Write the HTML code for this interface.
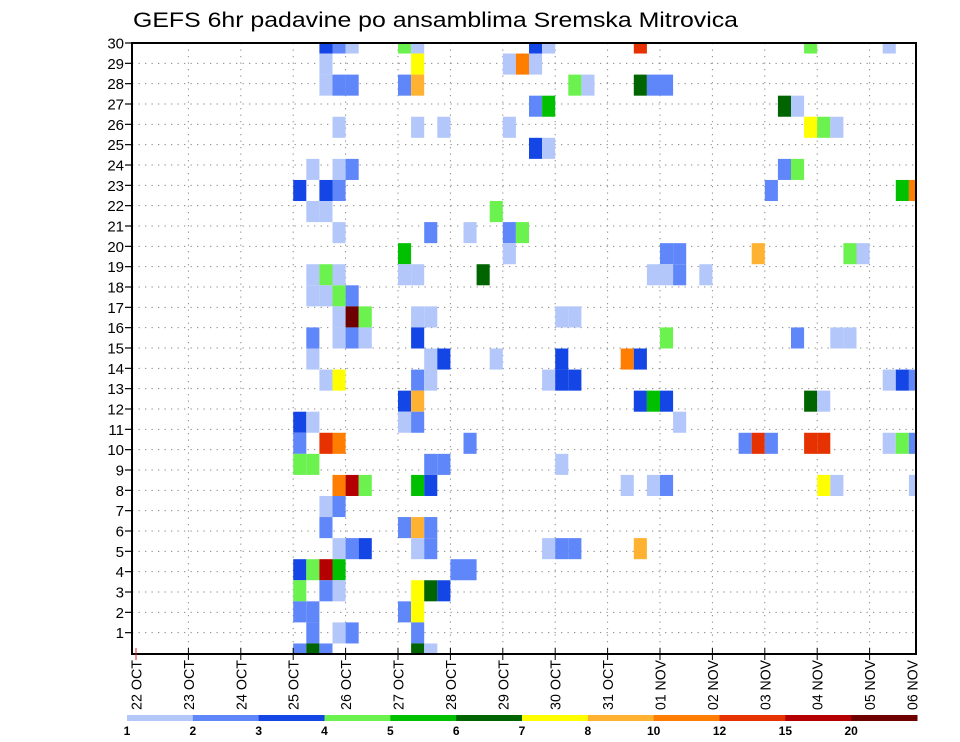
<!DOCTYPE html>
<html>
<head>
<meta charset="utf-8">
<style>
html,body{margin:0;padding:0;background:#fff;}
svg{display:block;font-family:"Liberation Sans",sans-serif;}
</style>
</head>
<body>
<svg id="chart" width="960" height="742" viewBox="0 0 960 742" xmlns="http://www.w3.org/2000/svg">
  <text x="133" y="27" font-size="21" textLength="605" lengthAdjust="spacingAndGlyphs" fill="#000">GEFS 6hr padavine po ansamblima Sremska Mitrovica</text>
  <g id="grid"></g>
  <g id="cells"></g>
  <rect x="132" y="43" width="784" height="611" fill="none" stroke="#000" stroke-width="2"/>
  <g id="axes"></g>
  <g id="colorbar"></g>
</svg>
<script>
// ---- data ----
const dayLabels = ["22 OCT","23 OCT","24 OCT","25 OCT","26 OCT","27 OCT","28 OCT","29 OCT","30 OCT","31 OCT","01 NOV","02 NOV","03 NOV","04 NOV","05 NOV","06 NOV"];
const memberTicks = [1,2,3,4,5,6,7,8,9,10,11,12,13,14,15,16,17,18,19,20,21,22,23,24,25,26,27,28,29,30];
const levelLabels = ["1","2","3","4","5","6","7","8","10","12","15","20"];
const levelColors = ["#b4c7fa","#5f87fa","#1446e6","#6cf24f","#00c000","#006400","#ffff00","#ffb232","#ff7d00","#e63200","#b40000","#6e0000"];
// cells: member band index (0 = bottom), 6-hour step index from 22 OCT 00z, colour class
const cellMember = [
29,29,29,29,29,29,29,29,29,29,
28,28,28,28,28,
27,27,27,27,27,27,27,27,27,27,
26,26,26,26,
25,25,25,25,25,25,25,
24,24,
23,23,23,23,23,
22,22,22,22,22,22,
21,21,21,
20,20,20,20,20,
19,19,19,19,19,19,19,
18,18,18,18,18,18,18,18,18,18,
17,17,17,17,
16,16,16,16,16,16,16,
15,15,15,15,15,15,15,15,15,
14,14,14,14,14,14,14,
13,13,13,13,13,13,13,13,13,13,
12,12,12,12,12,12,12,
11,11,11,11,11,
10,10,10,10,10,10,10,10,10,10,10,10,
9,9,9,9,9,
8,8,8,8,8,8,8,8,8,8,8,
7,7,
6,6,6,6,
5,5,5,5,5,5,5,5,5,
4,4,4,4,4,4,
3,3,3,3,3,3,
2,2,2,2,
1,1,1,1,
0,0,0,0,0];
const cellStep = [
14,15,16,20,21,30,31,38,51,57,
14,21,28,29,30,
14,15,16,20,21,33,34,38,39,40,
30,31,49,50,
15,21,23,28,51,52,53,
30,31,
13,15,16,49,50,
12,14,15,48,58,59,
13,14,27,
15,22,25,28,29,
20,28,40,41,47,54,55,
13,14,15,20,21,26,39,40,41,43,
13,14,15,16,
15,16,17,21,22,32,33,
13,15,16,17,21,40,50,53,54,
13,22,23,27,32,37,38,
14,15,21,22,31,32,33,57,58,59,
20,21,38,39,40,51,52,
12,13,20,21,41,
12,14,15,25,46,47,48,51,52,57,58,59,
12,13,22,23,32,
15,16,17,21,22,37,39,40,52,53,59,
14,15,
14,20,21,22,
15,16,17,21,22,31,32,33,38,
12,13,14,15,24,25,
12,14,15,21,22,23,
12,13,20,21,
13,15,16,21,
12,13,14,21,22];
const cellLevel = [
2,1,0,3,0,2,0,9,3,0,
0,6,0,8,0,
0,1,1,1,7,3,0,5,1,1,
1,4,5,0,
0,0,0,0,6,3,0,
2,0,
0,0,1,1,3,
2,2,1,1,4,8,
0,0,3,
0,1,0,1,3,
4,0,1,1,7,3,0,
0,3,0,0,0,5,0,0,1,0,
0,0,3,1,
0,11,3,0,0,0,0,
1,0,1,0,2,3,1,0,0,
0,0,2,0,2,8,2,
0,6,1,0,0,2,2,0,2,1,
2,7,2,4,2,5,0,
2,0,0,1,0,
1,9,8,1,1,9,1,9,9,0,3,1,
3,3,1,1,0,
8,10,3,4,2,0,0,1,6,0,0,
0,1,
1,1,7,1,
0,1,2,0,1,0,1,1,7,
2,3,10,4,1,1,
3,1,0,6,5,2,
1,1,1,6,
1,0,1,1,
1,5,1,5,0];

// ---- scales ----
const NS = "http://www.w3.org/2000/svg";
const plotL = 132, plotR = 916, plotT = 43, plotB = 654;
const x0 = 136, stepW = 13.1;
function xStep(k){ return x0 + k*stepW; }
function xDay(d){ return x0 + d*4*stepW; }
const bandH = (plotB - plotT)/29;
function yBand(m){ return plotB - m*bandH; }           // band centre
function yTick(r){ return plotB - 1 - r*(plotB - 1 - plotT)/30; }

function mk(tag, attrs, parent){
  const e = document.createElementNS(NS, tag);
  for (const a in attrs) e.setAttribute(a, attrs[a]);
  parent.appendChild(e);
  return e;
}

// grid
const grid = document.getElementById('grid');
for (let r = 1; r < 30; r++){
  const y = yTick(r);
  const ln = mk('line', {x1:plotL, x2:plotR, y1:y, y2:y, stroke:'#888', 'stroke-width':1, 'stroke-dasharray':'1.3,5.2'}, grid);
  
  
}
for (let d = 1; d < 15; d++){
  const x = xDay(d);
  const ln = mk('line', {x1:x, x2:x, y1:plotT, y2:plotB, stroke:'#888', 'stroke-width':1, 'stroke-dasharray':'1.3,5.2'}, grid);
  
  
}

// cells
const cells = document.getElementById('cells');
for (let i = 0; i < cellMember.length; i++){
  const xl = Math.max(plotL, xStep(cellStep[i]));
  const xr = Math.min(plotR, xStep(cellStep[i] + 1));
  const yc = yBand(cellMember[i]);
  const yt = Math.max(plotT, yc - bandH/2);
  const yb = Math.min(plotB, yc + bandH/2);
  if (xr <= xl || yb <= yt) continue;
  const c = mk('rect', {x:xl, y:yt, width:xr - xl, height:yb - yt, fill:levelColors[cellLevel[i]]}, cells);
  
  
}

// axes
const axes = document.getElementById('axes');
for (let i = 0; i < memberTicks.length; i++){
  const r = memberTicks[i];
  const y = yTick(r);
  const t = mk('line', {x1:125, x2:plotL, y1:y, y2:y, stroke:'#000', 'stroke-width':1.2}, axes);
  
  
  const lb = mk('text', {x:124, y:y + 5.5, 'font-size':15, 'text-anchor':'end', fill:'#000'}, axes);
  lb.textContent = String(r);
  
  
}
for (let d = 0; d < dayLabels.length; d++){
  let x = xDay(d);
  if (x > plotR) x = 912;
  if (d > 0 && d < 15){
    const t = mk('line', {x1:x, x2:x, y1:plotB - 6, y2:plotB + 6, stroke:'#000', 'stroke-width':1}, axes);
    
    
  }
  const lb = mk('text', {x:0, y:0, 'font-size':15, 'text-anchor':'end', fill:'#000',
    textLength:50, lengthAdjust:'spacingAndGlyphs',
    transform:'translate(' + (x + 5.5) + ',660) rotate(-90)'}, axes);
  lb.textContent = dayLabels[d];
  
  
}
const t0 = mk('line', {x1:xDay(0), x2:xDay(0), y1:plotB - 6, y2:plotB + 6, stroke:'#d03030', 'stroke-width':1}, axes);



// colorbar
const cb = document.getElementById('colorbar');
const cbL = 127, cbW = (917 - 127)/levelColors.length;
for (let i = 0; i < levelColors.length; i++){
  const r = mk('rect', {x:cbL + i*cbW, y:715, width:cbW + 0.5, height:6, fill:levelColors[i]}, cb);
  
  
}
for (let i = 0; i < levelLabels.length; i++){
  const lb = mk('text', {x:cbL + i*cbW, y:735, 'font-size':12, 'font-weight':'bold', 'text-anchor':'middle', fill:'#000'}, cb);
  lb.textContent = levelLabels[i];
  
  
}
</script>
</body>
</html>
